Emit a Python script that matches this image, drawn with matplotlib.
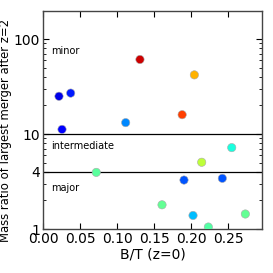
import matplotlib
matplotlib.use("Agg")
import matplotlib.pyplot as plt
import numpy as np
from matplotlib.ticker import FixedLocator, NullFormatter, LogLocator

bt = [0.0216, 0.0374, 0.0257, 0.1117, 0.131, 0.2045, 0.188, 0.072, 0.255, 0.2144,
      0.1905, 0.2423, 0.1608, 0.2027, 0.2734, 0.2234]
ratio = [25, 27, 11.2, 13.2, 61, 42, 16, 3.95, 7.2, 5.05,
         3.28, 3.42, 1.80, 1.39, 1.44, 1.05]
cval = [0.09, 0.15, 0.12, 0.26, 0.93, 0.72, 0.84, 0.46, 0.38, 0.58,
        0.21, 0.21, 0.47, 0.31, 0.47, 0.45]

fig = plt.figure(figsize=(2.73, 2.73), dpi=100)
ax = fig.add_axes([0.1575, 0.161, 0.8025, 0.799])
ax.scatter(bt, ratio, c=cval, cmap="jet", vmin=0, vmax=1, s=36,
           edgecolors="#aaaaaa", linewidths=0.4, zorder=3)
ax.axhline(10, color="black", lw=0.9)
ax.axhline(4, color="black", lw=0.9)
ax.set_yscale("log")
ax.set_xlim(0, 0.296)
ax.set_ylim(1, 198)
ax.set_xticks([0, 0.05, 0.10, 0.15, 0.20, 0.25])
ax.set_xticklabels(["0.00", "0.05", "0.10", "0.15", "0.20", "0.25"])
ax.yaxis.set_major_locator(FixedLocator([1, 4, 10, 100]))
ax.set_yticklabels(["1", "4", "10", "100"])
ax.yaxis.set_minor_locator(LogLocator(base=10, subs=np.arange(2, 10), numticks=10))
ax.yaxis.set_minor_formatter(NullFormatter())
ax.tick_params(axis="both", which="both", direction="in", top=True, right=True,
               labelsize=10, pad=2)
ax.tick_params(which="major", length=4)
ax.tick_params(which="minor", length=2)
for s in ax.spines.values():
    s.set_color("#444444")
    s.set_linewidth(1.0)
ax.text(0.011, 75, "minor", fontsize=7, va="center")
ax.text(0.011, 7.5, "intermediate", fontsize=7, va="center")
ax.text(0.011, 2.7, "major", fontsize=7, va="center")
ax.set_xlabel("B/T (z=0)", fontsize=10, labelpad=1)
ax.set_ylabel("Mass ratio of largest merger after z=2", fontsize=8.4)
ax.yaxis.set_label_coords(-0.14, 0.45)
fig.savefig("out.png", dpi=100)
